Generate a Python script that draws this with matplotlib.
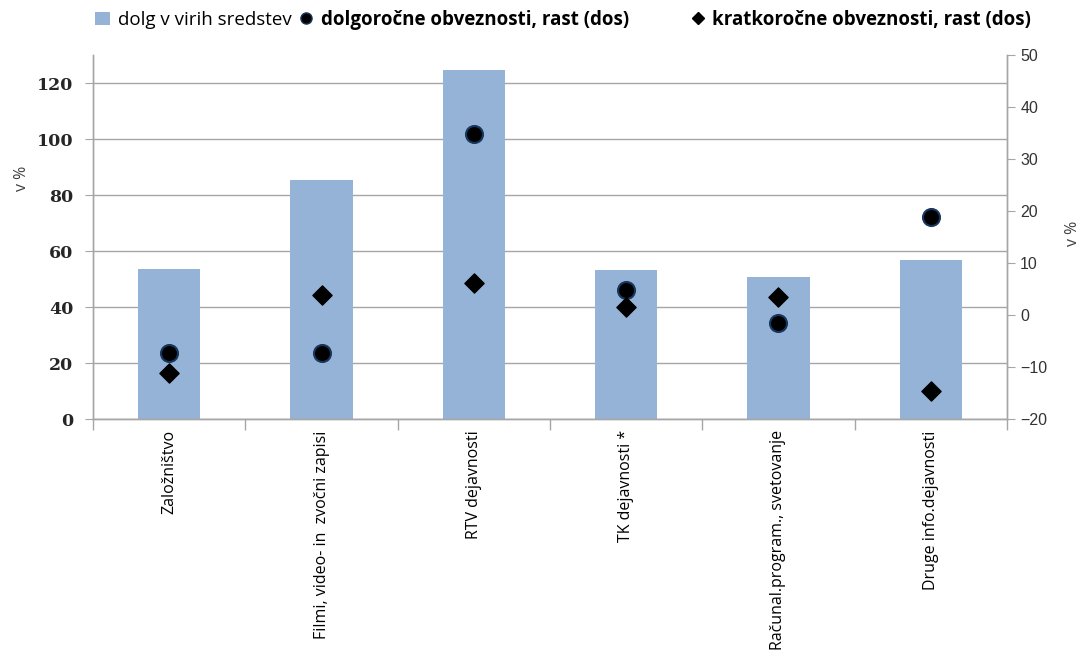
import matplotlib.pyplot as plt
import numpy as np
from matplotlib.lines import Line2D
from matplotlib.patches import Patch

# values
categories = [
    'Založništvo',
    'Filmi, video- in  zvočni zapisi',
    'RTV dejavnosti',
    'TK dejavnosti *',
    'Računal.program., svetovanje',
    'Druge info.dejavnosti',
]
dolg_v_virih = [53.6, 85.4, 124.6, 53.3, 50.8, 56.7]
dolgorocne_rast = [-7.3, -7.3, 34.8, 4.8, -1.6, 18.9]
kratkorocne_rast = [-11.2, 3.8, 6.1, 1.5, 3.4, -14.6]

bar_color = '#95B3D7'
grid_color = '#A6A6A6'
text_font = ['Open Sans', 'DejaVu Sans']

fig = plt.figure(figsize=(10.83, 6.58), dpi=100)
ax = fig.add_axes([0.0859, 0.3632, 0.8439, 0.5532])
ax2 = ax.twinx()

x = np.arange(len(categories))
ax.bar(x, dolg_v_virih, width=0.41, color=bar_color, zorder=2)
ax.set_xlim(-0.5, len(categories) - 0.5)
ax.set_ylim(0, 130)
ax.set_yticks(range(0, 121, 20))
ax.yaxis.grid(True, color=grid_color, linewidth=1.0, zorder=0)
ax.set_axisbelow(True)

ax2.scatter(x, dolgorocne_rast, marker='o', s=150, color='black',
            edgecolors='#17375E', linewidths=1.5, zorder=4)
ax2.scatter(x, kratkorocne_rast, marker='D', s=95, color='black', zorder=4)
ax2.set_ylim(-20, 50)
ax2.set_yticks(range(-20, 51, 10))

# category labels with ticks on the boundaries
ax.set_xticks(x)
ax.set_xticklabels(categories, rotation=90, fontsize=11.5, family=text_font,
                   va='top')
ax.tick_params(axis='x', which='major', length=0, pad=8)
ax.set_xticks(np.arange(-0.5, len(categories), 1.0), minor=True)
ax.tick_params(axis='x', which='minor', length=8, color=grid_color, width=1)

ax.tick_params(axis='y', length=6, color=grid_color, labelsize=12.5, pad=8)
for lbl in ax.get_yticklabels():
    lbl.set_family(['DejaVu Serif'])
    lbl.set_fontweight('bold')
    lbl.set_color('#262626')
ax2.tick_params(axis='y', length=6, color=grid_color, labelsize=11.5,
                labelcolor='#333333')
for lbl in ax2.get_yticklabels():
    lbl.set_family(['Liberation Sans', 'DejaVu Sans'])

for a in (ax, ax2):
    a.spines['top'].set_visible(False)
    for s in ('left', 'right', 'bottom'):
        a.spines[s].set_color(grid_color)
        a.spines[s].set_linewidth(1.0)

fig.text(22 / 1083, 1 - 178 / 658, 'v %', rotation=90, ha='center',
         va='center', fontsize=11.5, family=text_font, color='#404040')
fig.text(1073 / 1083, 1 - 233 / 658, 'v %', rotation=90, ha='center',
         va='center', fontsize=11.5, family=text_font, color='#404040')

# legend entries placed one by one like the spreadsheet legend
handles = [
    Patch(facecolor=bar_color, edgecolor='none'),
    Line2D([], [], marker='o', linestyle='none', markersize=8,
           markerfacecolor='black', markeredgecolor='#17375E'),
    Line2D([], [], marker='D', linestyle='none', markersize=6,
           markerfacecolor='black', markeredgecolor='black'),
]
labels = ['dolg v virih sredstev',
          'dolgoročne obveznosti, rast (dos)',
          'kratkoročne obveznosti, rast (dos)']
weights = ['normal', 'bold', 'bold']
lefts = [95, 299, 690]
for h, lab, w, lx in zip(handles, labels, weights, lefts):
    fig.legend([h], [lab], loc='center left',
               bbox_to_anchor=(lx / 1083, 1 - 20 / 658), frameon=False,
               borderpad=0, borderaxespad=0, handlelength=0.8,
               handletextpad=0.4,
               prop={'family': text_font, 'size': 13.5, 'weight': w})

fig.savefig('out.png', dpi=100)
